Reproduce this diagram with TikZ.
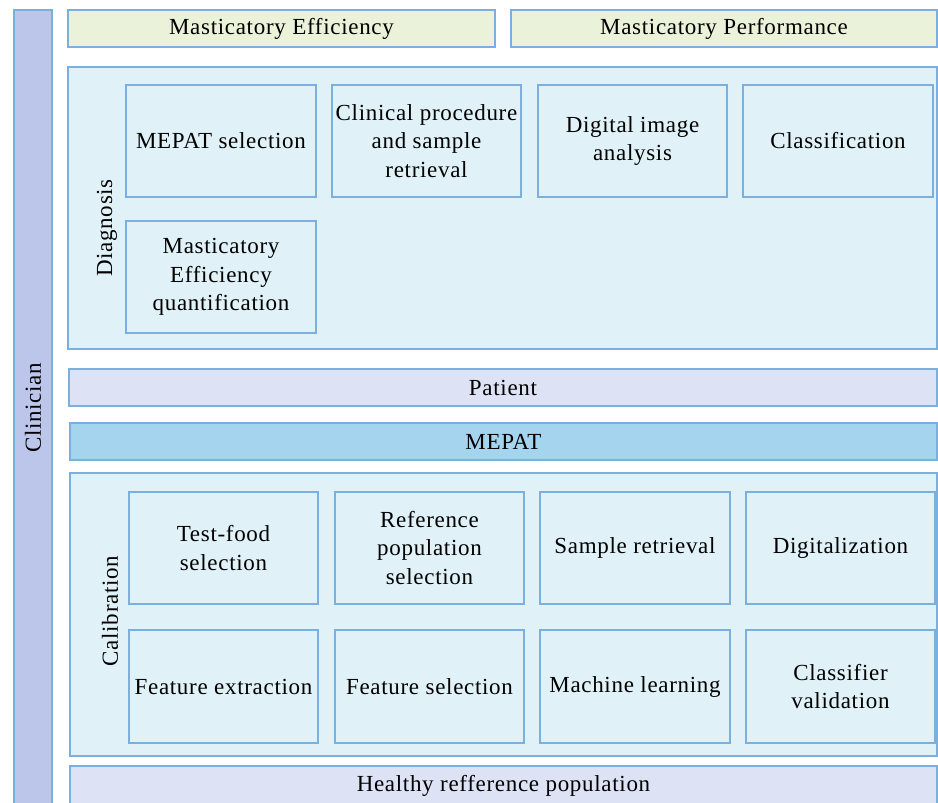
\documentclass[tikz,border=0pt]{standalone}
\usepackage{fontspec}
\setmainfont[LetterSpace=3]{Liberation Serif}
\definecolor{bord}{HTML}{7BB0DE}
\definecolor{clin}{HTML}{BCC6EA}
\definecolor{topg}{HTML}{EAF3DA}
\definecolor{lblue}{HTML}{E0F2F8}
\definecolor{pat}{HTML}{DEE2F5}
\definecolor{mep}{HTML}{A5D5EE}
\newcommand{\fs}{\fontsize{23}{28.5}\selectfont}
\newcommand{\rbox}[7]{\node[bx,#6,minimum width={#4pt-#2pt},minimum height={#5pt-#3pt}] (#1) at ({(#2+#4)/2},{(#3+#5)/2}) {#7};}
\tikzset{
  bx/.style={draw=bord, line width=2pt, inner sep=0pt, align=center, font=\fs, text=black},
  grp/.style={fill=lblue},
  cell/.style={fill=lblue},
  rot/.style={rotate=90, font=\fs, inner sep=0pt}
}
\begin{document}
\begin{tikzpicture}[x=1pt,y=-1pt]
\useasboundingbox (0,0) rectangle (938,803);
\fill[white] (0,0) rectangle (938,803);
% Clinician bar
\rbox{clin}{14}{10}{52}{810}{fill=clin}{}
\node[rot] (clinlbl) at (33,408) {Clinician};
% top bars
\rbox{me}{68}{10}{495}{47}{fill=topg}{Masticatory Efficiency}
\rbox{mp}{511}{10}{937}{47}{fill=topg}{Masticatory Performance}
% Diagnosis group
\rbox{diag}{68}{67}{937}{349}{grp}{}
\node[rot] (diaglbl) at (107,228) {Diagnosis};
\rbox{d1}{126}{85}{316}{197}{cell}{MEPAT selection}
\rbox{d2}{332}{85}{521}{197}{cell}{Clinical procedure\\and sample\\retrieval}
\rbox{d3}{538}{85}{727}{197}{cell}{Digital image\\analysis}
\rbox{d4}{743}{85}{933}{197}{cell}{Classification}
\rbox{d5}{126}{221}{316}{333}{cell}{Masticatory\\Efficiency\\quantification}
% Patient and MEPAT
\rbox{patient}{69}{369}{937}{406}{fill=pat}{Patient}
\rbox{mepat}{70}{423}{937}{460}{fill=mep}{MEPAT}
% Calibration group
\rbox{cal}{70}{473}{937}{756}{grp}{}
\node[rot] (callbl) at (110,611) {Calibration};
\rbox{c1}{129}{492}{318}{604}{cell}{Test-food\\selection}
\rbox{c2}{335}{492}{524}{604}{cell}{Reference\\population\\selection}
\rbox{c3}{540}{492}{730}{604}{cell}{Sample retrieval}
\rbox{c4}{746}{492}{935}{604}{cell}{Digitalization}
\rbox{c5}{129}{630}{318}{743}{cell}{Feature extraction}
\rbox{c6}{335}{630}{524}{743}{cell}{Feature selection}
\rbox{c7}{540}{630}{730}{743}{cell}{Machine learning}
\rbox{c8}{746}{630}{935}{743}{cell}{Classifier\\validation}
% Healthy population
\rbox{healthy}{70}{766}{937}{806}{fill=pat}{Healthy refference population}
\end{tikzpicture}
\end{document}
